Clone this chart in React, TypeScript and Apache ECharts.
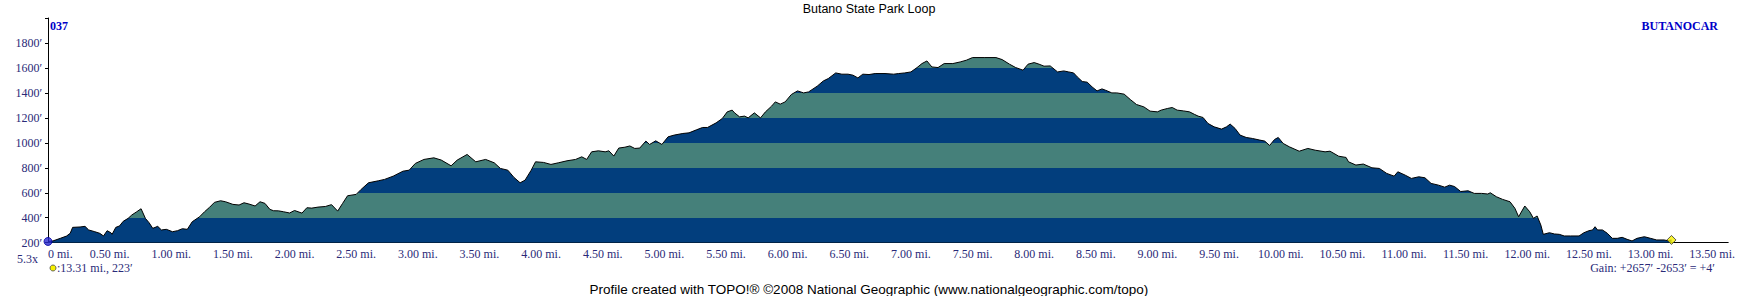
import React, { useEffect, useRef } from "react";
import * as echarts from "echarts";

// distance along trail (miles)
const distanceMi = [
  0.0, 0.04, 0.1, 0.15, 0.18, 0.2, 0.26, 0.3, 0.33, 0.38, 0.42, 0.45, 0.48, 0.51, 0.52, 0.55, 0.58, 0.61, 0.65, 0.68,
  0.72, 0.755, 0.79, 0.82, 0.85, 0.89, 0.92, 0.96, 1.01, 1.05, 1.09, 1.13, 1.17, 1.23, 1.27, 1.31, 1.35, 1.4, 1.44, 1.5,
  1.55, 1.59, 1.63, 1.68, 1.72, 1.76, 1.8, 1.83, 1.87, 1.91, 1.96, 2.0, 2.06, 2.1, 2.14, 2.19, 2.25, 2.3, 2.35, 2.39,
  2.43, 2.5, 2.54, 2.6, 2.68, 2.73, 2.8, 2.88, 2.93, 2.98, 3.05, 3.13, 3.19, 3.27, 3.32, 3.4, 3.47, 3.55, 3.62, 3.67,
  3.73, 3.78, 3.83, 3.87, 3.92, 3.955, 4.02, 4.08, 4.14, 4.21, 4.28, 4.33, 4.37, 4.41, 4.465, 4.52, 4.55, 4.59, 4.63, 4.68,
  4.72, 4.76, 4.8, 4.85, 4.88, 4.93, 4.98, 5.03, 5.08, 5.15, 5.2, 5.26, 5.31, 5.35, 5.42, 5.47, 5.51, 5.55, 5.57, 5.61,
  5.65, 5.68, 5.73, 5.78, 5.82, 5.87, 5.9, 5.94, 5.98, 6.03, 6.08, 6.13, 6.17, 6.24, 6.29, 6.33, 6.39, 6.44, 6.49, 6.53,
  6.57, 6.61, 6.66, 6.71, 6.79, 6.86, 6.9, 6.95, 7.0, 7.05, 7.09, 7.13, 7.17, 7.22, 7.27, 7.34, 7.4, 7.45, 7.5, 7.6,
  7.69, 7.74, 7.8, 7.85, 7.91, 7.95, 8.0, 8.04, 8.08, 8.13, 8.19, 8.24, 8.28, 8.32, 8.35, 8.39, 8.43, 8.47, 8.51, 8.55,
  8.58, 8.63, 8.67, 8.73, 8.78, 8.83, 8.89, 8.94, 9.0, 9.03, 9.08, 9.12, 9.16, 9.21, 9.26, 9.3, 9.33, 9.37, 9.41, 9.46,
  9.52, 9.56, 9.59, 9.63, 9.67, 9.72, 9.77, 9.83, 9.87, 9.91, 9.95, 9.98, 10.02, 10.07, 10.15, 10.22, 10.28, 10.36, 10.4, 10.47,
  10.53, 10.55, 10.61, 10.67, 10.74, 10.8, 10.86, 10.92, 10.95, 11.01, 11.06, 11.12, 11.17, 11.22, 11.28, 11.33, 11.37, 11.41, 11.46, 11.52,
  11.57, 11.63, 11.68, 11.7, 11.75, 11.8, 11.86, 11.9, 11.93, 11.98, 12.02, 12.05, 12.08, 12.11, 12.13, 12.18, 12.22, 12.26, 12.3, 12.35,
  12.42, 12.46, 12.5, 12.53, 12.55, 12.57, 12.61, 12.65, 12.69, 12.73, 12.77, 12.81, 12.85, 12.89, 12.95, 13.0, 13.05, 13.11, 13.14, 13.17,
];

// elevation (feet)
const elevationFt = [
  210, 214, 235, 253, 275, 323, 326, 331, 302, 288, 275, 254, 296, 280, 267, 323, 334, 371, 395, 422,
  448, 472, 395, 360, 315, 331, 302, 307, 288, 296, 312, 307, 368, 408, 448, 483, 523, 536, 528, 507,
  502, 520, 510, 494, 528, 515, 467, 456, 455, 448, 438, 458, 437, 480, 477, 485, 490, 505, 453, 515,
  576, 587, 627, 680, 696, 707, 733, 773, 781, 835, 867, 880, 862, 816, 862, 907, 848, 867, 840, 795,
  781, 723, 680, 701, 781, 848, 843, 827, 840, 856, 867, 888, 867, 928, 936, 928, 936, 894, 958, 965,
  975, 955, 958, 1014, 987, 1016, 987, 1048, 1062, 1075, 1080, 1104, 1123, 1123, 1160, 1195, 1248, 1262, 1240, 1208,
  1214, 1200, 1240, 1200, 1248, 1294, 1328, 1310, 1328, 1387, 1416, 1400, 1408, 1454, 1496, 1515, 1560, 1550, 1550, 1542,
  1520, 1550, 1547, 1555, 1555, 1550, 1555, 1560, 1568, 1603, 1635, 1656, 1608, 1603, 1635, 1635, 1648, 1662, 1683, 1683,
  1683, 1667, 1630, 1603, 1582, 1630, 1643, 1630, 1614, 1616, 1568, 1576, 1568, 1560, 1528, 1491, 1486, 1448, 1416, 1432,
  1421, 1400, 1400, 1390, 1347, 1307, 1288, 1254, 1248, 1262, 1275, 1283, 1262, 1256, 1248, 1228, 1214, 1203, 1155, 1128,
  1110, 1128, 1150, 1115, 1062, 1043, 1035, 1022, 1014, 979, 1027, 1043, 995, 968, 933, 955, 941, 928, 933, 893,
  883, 848, 822, 830, 800, 795, 755, 733, 768, 741, 715, 728, 720, 675, 661, 645, 661, 650, 610, 616,
  595, 595, 590, 600, 568, 547, 528, 475, 408, 494, 448, 395, 414, 342, 267, 280, 270, 267, 254, 254,
  254, 280, 296, 302, 328, 302, 302, 275, 235, 235, 243, 227, 214, 235, 248, 235, 222, 222, 216, 222,
];

// elevation bands (feet) and their alternating colours
const bandEdges = [200, 400, 600, 800, 1000, 1200, 1400, 1600, 1800, 2000];
const bandColors = ["#023e7d", "#45807a"];

const titleText = "Butano State Park Loop";
const footerText = "Profile created with TOPO!\u00ae \u00a92008 National Geographic (www.nationalgeographic.com/topo)";
const startLabel = "037";
const endLabel = "BUTANOCAR";
const exaggerationText = "5.3x";
const cursorText = ":13.31 mi., 223\u2032";
const gainText = "Gain: +2657\u2032 -2653\u2032 = +4\u2032";

const LABEL_COLOR = "#2a2a78";
const SERIF = "'Liberation Serif', 'Times New Roman', serif";
const SANS = "'Liberation Sans', Arial, sans-serif";

export default function App() {
  const ref = useRef<HTMLDivElement>(null);

  useEffect(() => {
    if (!ref.current) return;
    const chart = echarts.init(ref.current, undefined, { renderer: "svg" });
    const points = distanceMi.map((d, i) => [d, elevationFt[i]]);
    const last = points[points.length - 1];

    chart.setOption({
      animation: false,
      backgroundColor: "#ffffff",
      grid: { left: 48, right: 0, top: 18, bottom: 53.3, containLabel: false },
      xAxis: {
        type: "value",
        min: 0,
        max: 13.63,
        interval: 0.5,
        axisLine: { show: true, lineStyle: { color: "#000", width: 1 } },
        axisTick: { show: false },
        splitLine: { show: false },
        axisLabel: {
          margin: 5,
          color: LABEL_COLOR,
          fontFamily: SERIF,
          fontSize: 12,
          alignMinLabel: "left",
          showMaxLabel: true,
          formatter: (v: number) => {
            const k = v / 0.5;
            if (Math.abs(k - Math.round(k)) > 1e-6) return "";
            return v === 0 ? "0 mi." : v.toFixed(2) + " mi.";
          },
        },
      },
      yAxis: {
        type: "value",
        min: 200,
        max: 2000,
        interval: 200,
        axisLine: { show: true, lineStyle: { color: "#000", width: 1 } },
        axisTick: { show: true, length: 3, lineStyle: { color: "#000" } },
        splitLine: { show: false },
        axisLabel: {
          margin: 6,
          color: LABEL_COLOR,
          fontFamily: SERIF,
          fontSize: 12,
          formatter: (v: number) => (v >= 2000 ? "" : v + "\u2032"),
        },
      },
      visualMap: {
        type: "piecewise",
        show: false,
        seriesIndex: 0,
        dimension: 1,
        pieces: bandEdges.slice(0, -1).map((lo, i) => ({
          gte: lo,
          lt: bandEdges[i + 1],
          color: bandColors[i % 2],
        })),
        outOfRange: { color: bandColors[0] },
      },
      series: [
        {
          type: "line",
          data: points,
          showSymbol: false,
          symbol: "none",
          lineStyle: { width: 0, opacity: 0 },
          areaStyle: { opacity: 1, origin: "start" },
          z: 1,
        },
        {
          type: "line",
          data: points,
          showSymbol: false,
          symbol: "none",
          color: "#000",
          lineStyle: { width: 1, color: "#000" },
          z: 2,
        },
        {
          type: "scatter",
          data: [points[0]],
          symbol: "circle",
          symbolSize: 8,
          clip: false,
          itemStyle: { color: "#2a2ad0", borderColor: "#0000a0", borderWidth: 1 },
          z: 3,
        },
        {
          type: "scatter",
          data: [last],
          symbol: "diamond",
          symbolSize: 9,
          clip: false,
          itemStyle: { color: "#f5f000", borderColor: "#333", borderWidth: 1 },
          z: 3,
        },
      ],
      graphic: [
        {
          type: "text",
          left: "center",
          top: 2,
          style: { text: titleText, font: `12.5px ${SANS}`, fill: "#000" },
        },
        {
          type: "text",
          x: 50,
          y: 26,
          style: { text: startLabel, font: `bold 12px ${SERIF}`, fill: "#0000c8", textVerticalAlign: "middle" },
        },
        {
          type: "text",
          x: 1718,
          y: 26,
          style: { text: endLabel, font: `bold 12px ${SERIF}`, fill: "#0000c8", textAlign: "right", textVerticalAlign: "middle" },
        },
        {
          type: "text",
          x: 17,
          y: 259,
          style: { text: exaggerationText, font: `12px ${SERIF}`, fill: LABEL_COLOR, textVerticalAlign: "middle" },
        },
        {
          type: "circle",
          shape: { cx: 53, cy: 268, r: 3 },
          style: { fill: "#f5f000", stroke: "#444", lineWidth: 0.8 },
        },
        {
          type: "text",
          x: 57,
          y: 268,
          style: { text: cursorText, font: `12px ${SERIF}`, fill: LABEL_COLOR, textVerticalAlign: "middle" },
        },
        {
          type: "text",
          x: 1715,
          y: 268,
          style: { text: gainText, font: `12px ${SERIF}`, fill: LABEL_COLOR, textAlign: "right", textVerticalAlign: "middle" },
        },
        {
          type: "text",
          left: "center",
          top: 282,
          style: { text: footerText, font: `13.5px ${SANS}`, fill: "#000" },
        },
      ],
    });

    return () => chart.dispose();
  }, []);

  return (
    <div
      ref={ref}
      style={{ position: "absolute", left: 0, top: 0, width: 1738, height: 296, background: "#fff" }}
    />
  );
}
